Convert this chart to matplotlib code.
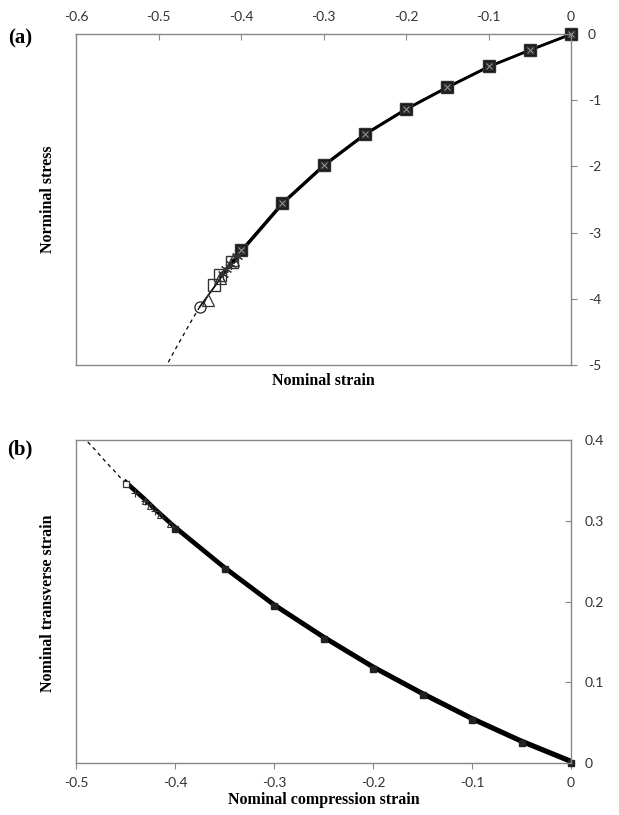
import matplotlib
matplotlib.use("Agg")
import matplotlib.pyplot as plt

# (a) nominal stress vs nominal strain
strain = [0.0, -0.05, -0.10, -0.15, -0.20, -0.25, -0.30, -0.35, -0.40]
stress = [0.0, -0.24, -0.49, -0.80, -1.13, -1.51, -1.98, -2.55, -3.27]

# tails where the separate runs stop
sq_tail_x = [-0.411, -0.425, -0.433]
sq_tail_y = [-3.44, -3.64, -3.79]
star_tail_x = [-0.405, -0.412, -0.418, -0.422]
star_tail_y = [-3.36, -3.47, -3.55, -3.62]
tri_tail_x = [-0.41, -0.425, -0.44]
tri_tail_y = [-3.42, -3.68, -4.02]
circ_tail_x = [-0.41, -0.43, -0.45]
circ_tail_y = [-3.42, -3.78, -4.12]
dash_a_x = [-0.45, -0.46, -0.47, -0.48, -0.49, -0.492]
dash_a_y = [-4.12, -4.33, -4.55, -4.77, -5.0, -5.05]

# (b) nominal transverse strain vs nominal compression strain
comp = [0.0, -0.05, -0.10, -0.15, -0.20, -0.25, -0.30, -0.35, -0.40]
trans = [0.0, 0.025, 0.053, 0.084, 0.117, 0.154, 0.194, 0.240, 0.290]
b_tail_x = [-0.41, -0.42, -0.43, -0.44, -0.45]
b_tail_y = [0.301, 0.312, 0.324, 0.335, 0.346]
b_tri_x = [-0.405, -0.415, -0.425, -0.43]
b_tri_y = [0.296, 0.307, 0.318, 0.324]
dash_b_x = [-0.45, -0.46, -0.47, -0.48, -0.49, -0.495]
dash_b_y = [0.346, 0.360, 0.373, 0.387, 0.400, 0.407]

tick_font = {"family": "Lato", "size": 10}
label_font = {"family": "Liberation Serif", "weight": "bold", "size": 11.5}
grey = "#888888"

fig = plt.figure(figsize=(6.19, 8.15), dpi=100)
ax1 = fig.add_axes([0.1228, 0.5521, 0.7997, 0.4062])
ax2 = fig.add_axes([0.1228, 0.0638, 0.7997, 0.3963])

# ---- panel (a)
ax1.plot(dash_a_x, dash_a_y, color="black", lw=0.9, ls=(0, (3, 3)))
for dx in (0.0, 0.002):
    ax1.plot([x + dx for x in strain + sq_tail_x[:2]],
             stress + sq_tail_y[:2], color="black", lw=1.6)
ax1.plot(strain + circ_tail_x, stress + circ_tail_y, color="black", lw=1.2)
ax1.plot(strain + sq_tail_x, stress + sq_tail_y, ls="none", marker="s",
         ms=8, mfc="none", mec="#333333", mew=1.0, clip_on=False)
ax1.plot(strain, stress, ls="none", marker="s", ms=7, mfc="#2a2a2a",
         mec="#1a1a1a", mew=0.8, clip_on=False)
ax1.plot(strain, stress, ls="none", marker="x", ms=5, mec="#9a9a9a",
         mew=0.7, clip_on=False)
ax1.plot(star_tail_x, star_tail_y, ls="none", marker=(6, 2, 0), ms=8,
         mec="#333333", mew=0.8)
ax1.plot(tri_tail_x, tri_tail_y, ls="none", marker="^", ms=8, mfc="none",
         mec="#333333", mew=0.9)
ax1.plot(circ_tail_x[-1:], circ_tail_y[-1:], ls="none", marker="o", ms=8,
         mfc="none", mec="#222222", mew=0.9)

ax1.set_xlim(-0.6, 0.0)
ax1.set_ylim(-5.0, 0.0)
ax1.set_xticks([-0.6, -0.5, -0.4, -0.3, -0.2, -0.1, 0])
ax1.set_xticklabels(["-0.6", "-0.5", "-0.4", "-0.3", "-0.2", "-0.1", "0"])
ax1.set_yticks([0, -1, -2, -3, -4, -5])
ax1.set_yticklabels(["0", "-1", "-2", "-3", "-4", "-5"])
ax1.xaxis.tick_top()
ax1.yaxis.tick_right()
ax1.tick_params(axis="x", direction="in", length=4, color=grey,
                labelcolor="#333333", pad=8)
ax1.tick_params(axis="y", direction="out", length=4, color=grey,
                labelcolor="#333333", pad=8)
for lab in ax1.get_xticklabels() + ax1.get_yticklabels():
    lab.set_fontfamily(tick_font["family"])
    lab.set_fontsize(tick_font["size"])
for sp in ax1.spines.values():
    sp.set_color(grey)
    sp.set_linewidth(1.0)

fig.text(0.077, 0.755, "Norminal stress", rotation=90, ha="center",
         va="center", **label_font)
fig.text(0.523, 0.532, "Nominal strain", ha="center", va="center",
         **label_font)
fig.text(0.032, 0.953, "(a)", ha="center", va="center",
         family="Liberation Serif", weight="bold", size=15)

# ---- panel (b)
ax2.plot(dash_b_x, dash_b_y, color="black", lw=0.9, ls=(0, (3, 3)))
for dy in (0.0, 0.002, 0.004):
    ax2.plot(comp + b_tail_x, [y + dy for y in trans + b_tail_y],
             color="black", lw=1.6)
ax2.plot(comp, trans, ls="none", marker="s", ms=5, mfc="#222222",
         mec="#222222", clip_on=False)
ax2.plot(b_tri_x, b_tri_y, ls="none", marker="^", ms=5, mfc="none",
         mec="#333333", mew=0.8)
ax2.plot(b_tail_x[1:4], b_tail_y[1:4], ls="none", marker="+", ms=6,
         mec="#333333", mew=0.8)
ax2.plot(b_tail_x[-1:], b_tail_y[-1:], ls="none", marker="s", ms=5,
         mfc="white", mec="#333333", mew=0.9)

ax2.set_xlim(-0.5, 0.0)
ax2.set_ylim(0.0, 0.4)
ax2.set_xticks([-0.5, -0.4, -0.3, -0.2, -0.1, 0])
ax2.set_xticklabels(["-0.5", "-0.4", "-0.3", "-0.2", "-0.1", "0"])
ax2.set_yticks([0, 0.1, 0.2, 0.3, 0.4])
ax2.set_yticklabels(["0", "0.1", "0.2", "0.3", "0.4"])
ax2.yaxis.tick_right()
ax2.tick_params(axis="x", direction="out", length=4, color=grey,
                labelcolor="#333333", pad=6)
ax2.tick_params(axis="y", direction="in", length=4, color=grey,
                labelcolor="#333333", pad=10)
for lab in ax2.get_xticklabels() + ax2.get_yticklabels():
    lab.set_fontfamily(tick_font["family"])
    lab.set_fontsize(tick_font["size"])
for sp in ax2.spines.values():
    sp.set_color(grey)
    sp.set_linewidth(1.0)

fig.text(0.077, 0.26, "Nominal transverse strain", rotation=90,
         ha="center", va="center", **label_font)
fig.text(0.523, 0.018, "Nominal compression strain", ha="center",
         va="center", **label_font)
fig.text(0.032, 0.448, "(b)", ha="center", va="center",
         family="Liberation Serif", weight="bold", size=15)

fig.savefig("out.png", dpi=100)
